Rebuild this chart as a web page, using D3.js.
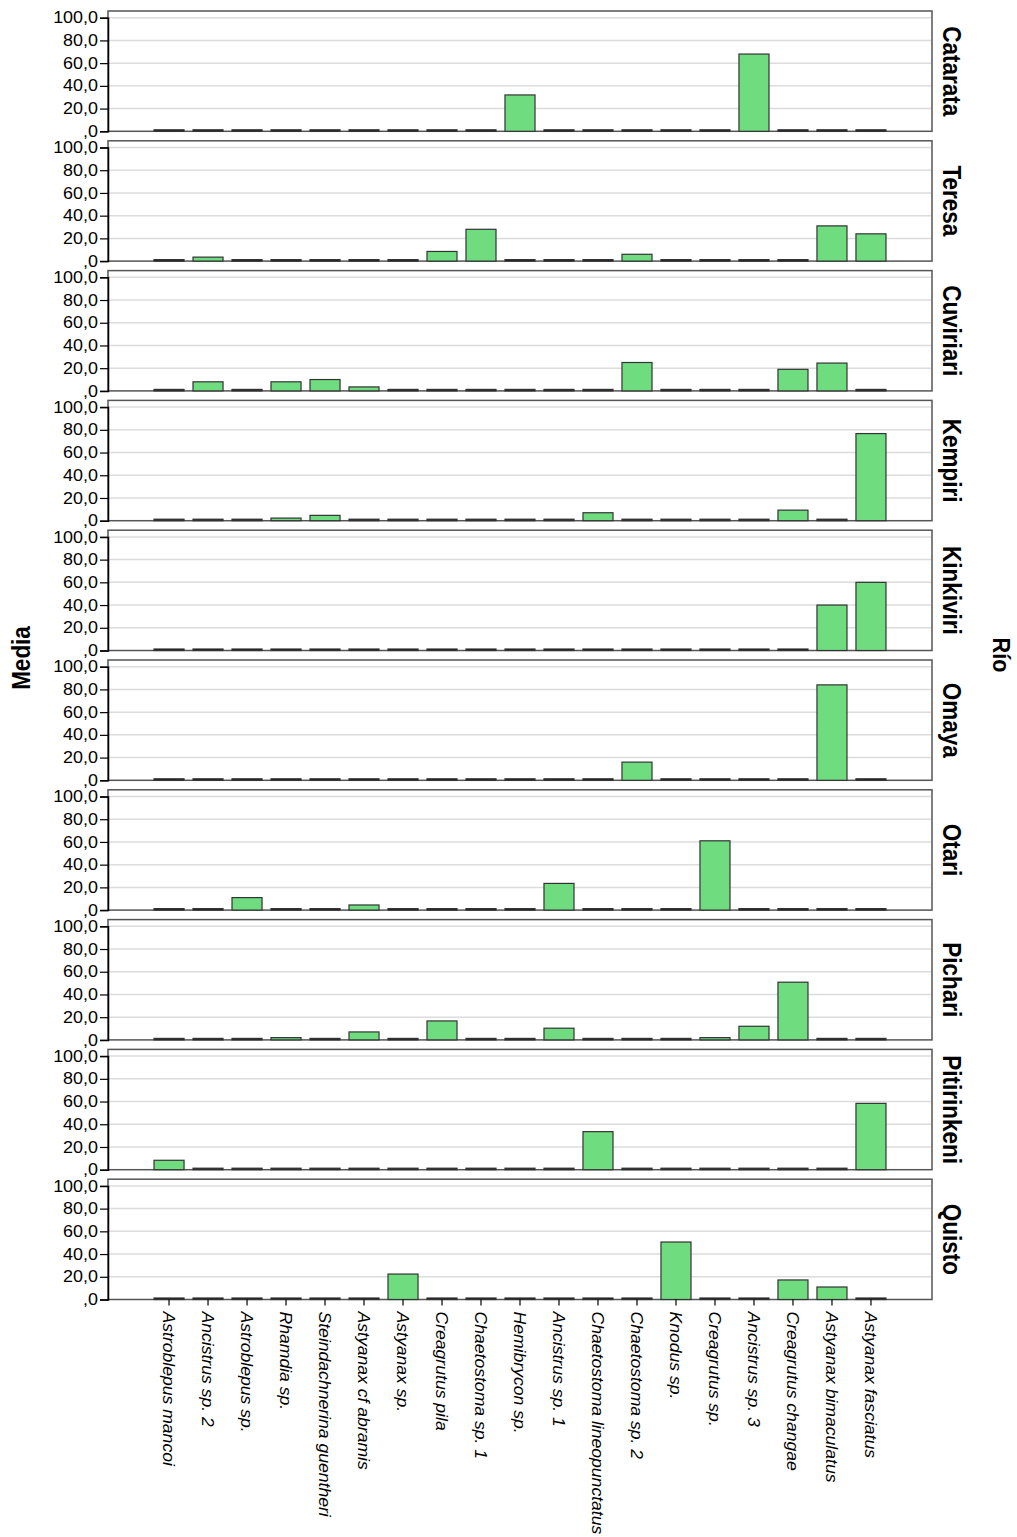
<!DOCTYPE html>
<html>
<head>
<meta charset="utf-8">
<script src="https://cdn.jsdelivr.net/npm/d3@7"></script>
<style>
  body { margin: 0; background: #fff; }
  text { font-family: "Liberation Sans", Arial, sans-serif; fill: #000; }
</style>
</head>
<body>
<script>
// species on the x axis
var categories = ["Astroblepus mancoi", "Ancistrus sp. 2", "Astroblepus sp.", "Rhamdia sp.",
  "Steindachnerina guentheri", "Astyanax cf abramis", "Astyanax sp.", "Creagrutus pila",
  "Chaetostoma sp. 1", "Hemibrycon sp.", "Ancistrus sp. 1", "Chaetostoma lineopunctatus",
  "Chaetostoma sp. 2", "Knodus sp.", "Creagrutus sp.", "Ancistrus sp. 3",
  "Creagrutus changae", "Astyanax bimaculatus", "Astyanax fasciatus"];

// one panel per river
var rivers = ["Catarata", "Teresa", "Cuviriari", "Kempiri", "Kinkiviri",
  "Omaya", "Otari", "Pichari", "Pitirinkeni", "Quisto"];

// mean (Media) per species, same order as categories
var catarata    = [0, 0, 0, 0, 0, 0, 0, 0, 0, 32, 0, 0, 0, 0, 0, 68, 0, 0, 0];
var teresa      = [0, 3.5, 0, 0, 0, 0, 0, 8.5, 28, 0, 0, 0, 6, 0, 0, 0, 0, 31, 24];
var cuviriari   = [0, 8, 0, 8, 10, 3.5, 0, 0, 0, 0, 0, 0, 25, 0, 0, 0, 19, 24.5, 0];
var kempiri     = [0, 0, 0, 2.3, 4.7, 0, 0, 0, 0, 0, 0, 7, 0, 0, 0, 0, 9.3, 0, 76.7];
var kinkiviri   = [0, 0, 0, 0, 0, 0, 0, 0, 0, 0, 0, 0, 0, 0, 0, 0, 0, 40, 60];
var omaya       = [0, 0, 0, 0, 0, 0, 0, 0, 0, 0, 0, 0, 16, 0, 0, 0, 0, 84, 0];
var otari       = [0, 0, 11, 0, 0, 4.5, 0, 0, 0, 0, 23.5, 0, 0, 0, 61, 0, 0, 0, 0];
var pichari     = [0, 0, 0, 2, 0, 7, 0, 16.7, 0, 0, 10.3, 0, 0, 0, 2, 12, 50.8, 0, 0];
var pitirinkeni = [8.3, 0, 0, 0, 0, 0, 0, 0, 0, 0, 0, 33.5, 0, 0, 0, 0, 0, 0, 58.4];
var quisto      = [0, 0, 0, 0, 0, 0, 22.4, 0, 0, 0, 0, 0, 0, 50.6, 0, 0, 17.2, 11, 0];

var yTicks = [0, 20, 40, 60, 80, 100];
var yTickLabels = [",0", "20,0", "40,0", "60,0", "80,0", "100,0"];

var series = [catarata, teresa, cuviriari, kempiri, kinkiviri, omaya, otari, pichari, pitirinkeni, quisto];

var width = 1017, height = 1537;
var left = 108, right = 932;
var top0 = 11, pitch = 129.8, panelH = 120.3, padTop = 6.7;

var svg = d3.select("body").append("svg")
    .attr("width", width)
    .attr("height", height);

var x = d3.scaleBand()
    .domain(categories)
    .range([left, right])
    .paddingInner(0.23)
    .paddingOuter(1.18);

rivers.forEach(function(river, i) {
  var py = top0 + i * pitch;
  var y = d3.scaleLinear().domain([0, 100]).range([py + panelH, py + padTop]);
  var g = svg.append("g");

  // frame
  g.append("rect")
      .attr("x", left).attr("y", py)
      .attr("width", right - left).attr("height", panelH)
      .attr("fill", "#fff").attr("stroke", "#555").attr("stroke-width", 1.5);

  // gridlines
  g.selectAll("line.grid")
      .data(yTicks.slice(1))
    .enter().append("line")
      .attr("class", "grid")
      .attr("x1", left + 1).attr("x2", right - 1)
      .attr("y1", function(d) { return y(d); })
      .attr("y2", function(d) { return y(d); })
      .attr("stroke", "#dcdcdc").attr("stroke-width", 1.5);

  // bars (zero values show as a flat line)
  var data = series[i].map(function(v, j) { return { c: categories[j], v: v }; });
  g.selectAll("rect.bar")
      .data(data)
    .enter().append("rect")
      .attr("class", "bar")
      .attr("x", function(d) { return x(d.c); })
      .attr("width", x.bandwidth())
      .attr("y", function(d) { return d.v > 0 ? y(d.v) : y(0) - 1.5; })
      .attr("height", function(d) { return d.v > 0 ? y(0) - y(d.v) : 1.5; })
      .attr("fill", function(d) { return d.v > 0 ? "#6fdc80" : "#111"; })
      .attr("stroke", "#333").attr("stroke-width", 1.2);

  // y axis
  var axis = d3.axisLeft(y)
      .tickValues(yTicks)
      .tickSize(8)
      .tickPadding(1)
      .tickFormat(function(d, k) { return yTickLabels[k]; });
  var ag = g.append("g")
      .attr("transform", "translate(" + left + ",0)")
      .call(axis);
  ag.select(".domain").attr("stroke", "#000").attr("stroke-width", 1.5);
  ag.selectAll(".tick line").attr("stroke", "#000").attr("stroke-width", 1.2);
  ag.selectAll(".tick text")
      .attr("font-size", 16)
      .attr("font-family", "Liberation Sans, Arial, sans-serif")
      .attr("transform", "scale(1.12,1)")
      .attr("fill", "#000");

  // river label on the right
  g.append("text")
      .attr("transform", "translate(943," + (py + panelH / 2) + ") rotate(90) scale(0.9,1)")
      .attr("text-anchor", "middle")
      .attr("font-size", 25)
      .attr("font-weight", "bold")
      .text(river);

  // bottom axis with species labels
  if (i === rivers.length - 1) {
    var xa = g.append("g")
        .attr("transform", "translate(0," + (py + panelH) + ")")
        .call(d3.axisBottom(x).tickSize(6).tickFormat(""));
    xa.select(".domain").remove();
    xa.selectAll(".tick line").attr("stroke", "#000").attr("stroke-width", 1.2);

    g.selectAll("text.cat")
        .data(categories)
      .enter().append("text")
        .attr("class", "cat")
        .attr("transform", function(d) {
          return "translate(" + (x(d) + x.bandwidth() / 2) + "," + (py + panelH + 12) + ") rotate(90) scale(1.1,1)";
        })
        .attr("dy", "0.35em")
        .attr("font-size", 16)
        .attr("font-style", "italic")
        .text(function(d) { return d; });
  }
});

// axis titles
svg.append("text")
    .attr("transform", "translate(30,658) rotate(-90) scale(0.9,1)")
    .attr("text-anchor", "middle")
    .attr("font-size", 25)
    .attr("font-weight", "bold")
    .text("Media");

svg.append("text")
    .attr("transform", "translate(993,655) rotate(90) scale(0.9,1)")
    .attr("text-anchor", "middle")
    .attr("font-size", 24)
    .attr("font-weight", "bold")
    .text("Río");
</script>
</body>
</html>
